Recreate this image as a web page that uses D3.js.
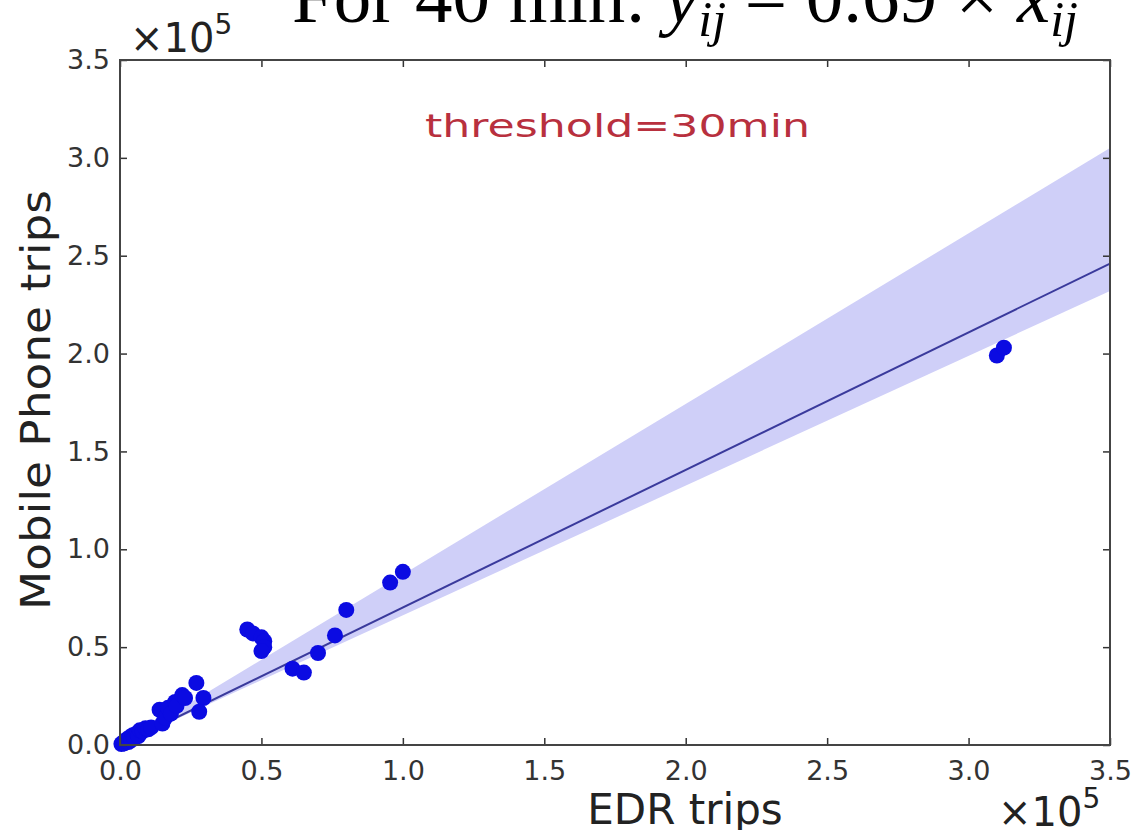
<!DOCTYPE html>
<html>
<head>
<meta charset="utf-8">
<script src="https://cdn.jsdelivr.net/npm/d3@7"></script>
<style>
  body { margin: 0; background: #fff; }
  svg { display: block; }
</style>
</head>
<body>
<svg id="chart"></svg>
<script>

/*Data, trips per OD pair*/
var edrTrips = [500, 1000, 1500, 2000, 2500, 3000, 3500, 4000, 4500, 5000, 6000, 6500, 7000, 8000, 9000, 10000, 11000,
    14000, 15000, 16000, 17000, 18000, 19500, 20000, 22000, 23000, 27000, 29500, 28000,
    45000, 47000, 50000, 51000, 51000, 50000,
    61000, 65000, 70000, 76000, 80000, 95500, 100000,
    310000, 312500];
var phoneTrips = [500, 1200, 800, 2000, 3000, 1500, 4000, 2500, 5000, 3500, 6000, 4500, 7500, 7000, 8500, 8000, 9000,
    18000, 11000, 14000, 19000, 16000, 22000, 20000, 25500, 24000, 31700, 24000, 17000,
    59000, 57000, 55000, 53000, 50000, 48000,
    39000, 37000, 47000, 56000, 69000, 83000, 88500,
    199000, 203000];

//Fitted line and its band
var fitX = [0, 350000];
var fitY = [0, 246000];
var bandLow = [0, 232000];
var bandHigh = [0, 305000];

var xTicks = [0, 50000, 100000, 150000, 200000, 250000, 300000, 350000];
var yTicks = [0, 50000, 100000, 150000, 200000, 250000, 300000, 350000];

var local = {
    "width": 1135,
    "height": 830,
    "left": 120,
    "right": 1110,
    "top": 60,
    "bottom": 745,
    "pointcolour": "#0b0be2"
};

var svg = d3.select("#chart")
    .attr("width", local.width)
    .attr("height", local.height);

var x = d3.scaleLinear().domain([0, 350000]).range([local.left, local.right]);
var y = d3.scaleLinear().domain([0, 350000]).range([local.bottom, local.top]);
var fmt = function (d) { return (d / 100000).toFixed(1); };

//Band
var band = d3.area()
    .x(function (d, i) { return x(fitX[i]); })
    .y0(function (d, i) { return y(bandLow[i]); })
    .y1(function (d, i) { return y(bandHigh[i]); });
svg.append("path")
    .datum(fitX)
    .attr("d", band)
    .attr("fill", "#cfcff8");

//Fit line
var line = d3.line()
    .x(function (d, i) { return x(fitX[i]); })
    .y(function (d, i) { return y(fitY[i]); });
svg.append("path")
    .datum(fitX)
    .attr("d", line)
    .attr("fill", "none")
    .attr("stroke", "#3a3a9c")
    .attr("stroke-width", 2);

//Points
svg.selectAll("circle.pt")
    .data(edrTrips)
    .enter()
    .append("circle")
    .attr("class", "pt")
    .attr("cx", function (d) { return x(d); })
    .attr("cy", function (d, i) { return y(phoneTrips[i]); })
    .attr("r", 8)
    .attr("fill", local.pointcolour);

//Axes, ticks inside on all four sides
function styleAxis(g) {
    g.select(".domain").remove();
    g.selectAll(".tick line").attr("stroke", "#333").attr("stroke-width", 1.5);
    g.selectAll(".tick text")
        .attr("fill", "#333")
        .style("font-family", "DejaVu Sans")
        .style("font-size", "27px");
}

var gx = svg.append("g")
    .attr("transform", "translate(0," + local.bottom + ")")
    .call(d3.axisBottom(x).tickValues(xTicks).tickFormat(fmt).tickSizeInner(-7).tickPadding(16));
styleAxis(gx);

var gy = svg.append("g")
    .attr("transform", "translate(" + local.left + ",0)")
    .call(d3.axisLeft(y).tickValues(yTicks).tickFormat(fmt).tickSizeInner(-7).tickPadding(10));
styleAxis(gy);

var gxTop = svg.append("g")
    .attr("transform", "translate(0," + local.top + ")")
    .call(d3.axisTop(x).tickValues(xTicks).tickFormat("").tickSizeInner(-7));
styleAxis(gxTop);

var gyRight = svg.append("g")
    .attr("transform", "translate(" + local.right + ",0)")
    .call(d3.axisRight(y).tickValues(yTicks).tickFormat("").tickSizeInner(-7));
styleAxis(gyRight);

//Frame
svg.append("rect")
    .attr("x", local.left)
    .attr("y", local.top)
    .attr("width", local.right - local.left)
    .attr("height", local.bottom - local.top)
    .attr("fill", "none")
    .attr("stroke", "#444")
    .attr("stroke-width", 2);

//Offset labels
function offsetLabel(px, py) {
    var t = svg.append("text")
        .attr("x", px)
        .attr("y", py)
        .attr("fill", "#222")
        .style("font-family", "DejaVu Sans")
        .style("font-size", "40px");
    t.append("tspan").text("\u00d710");
    t.append("tspan").attr("dy", -18).style("font-size", "28px").text("5");
}
offsetLabel(130, 52);
offsetLabel(998, 826);

//Axis titles
svg.append("text")
    .attr("x", 685)
    .attr("y", 824)
    .attr("text-anchor", "middle")
    .attr("fill", "#222")
    .style("font-family", "DejaVu Sans")
    .style("font-size", "42px")
    .text("EDR trips");

svg.append("text")
    .attr("transform", "translate(50,400) rotate(-90)")
    .attr("text-anchor", "middle")
    .attr("fill", "#222")
    .attr("textLength", 420)
    .attr("lengthAdjust", "spacingAndGlyphs")
    .style("font-family", "DejaVu Sans")
    .style("font-size", "40px")
    .text("Mobile Phone trips");

//Annotation
svg.append("text")
    .attr("x", 425)
    .attr("y", 137)
    .attr("fill", "#b8303e")
    .attr("textLength", 385)
    .attr("lengthAdjust", "spacingAndGlyphs")
    .style("font-family", "DejaVu Sans")
    .style("font-size", "32px")
    .text("threshold=30min");

//Title, cut off at the top
var title = svg.append("text")
    .attr("x", 292)
    .attr("y", 22)
    .attr("fill", "#000")
    .style("font-family", "Liberation Serif")
    .style("font-size", "75px");
title.append("tspan").text("For 40 min: ");
title.append("tspan").style("font-style", "italic").text("y");
title.append("tspan").attr("dy", 14).style("font-style", "italic").style("font-size", "50px").text("ij");
title.append("tspan").attr("dy", -14).text(" = 0.69 \u00d7 ");
title.append("tspan").style("font-style", "italic").text("x");
title.append("tspan").attr("dy", 14).style("font-style", "italic").style("font-size", "50px").text("ij");

</script>
</body>
</html>
